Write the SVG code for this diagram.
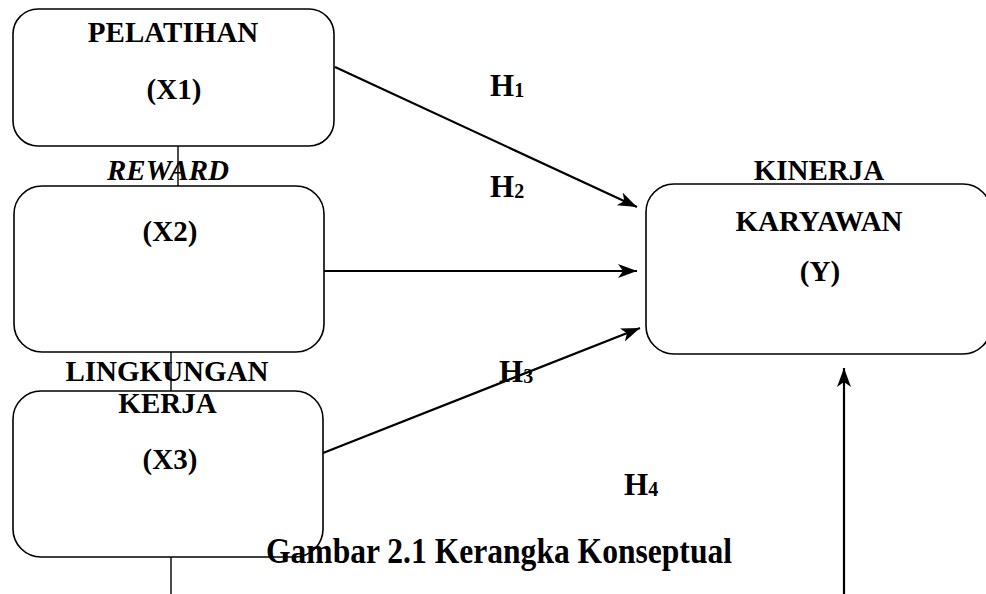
<svg xmlns="http://www.w3.org/2000/svg" width="986" height="594" viewBox="0 0 986 594">
<style>
.box{fill:#fff;stroke:#000;stroke-width:1.6}
.ln{stroke:#000;stroke-width:1.4;fill:none}
.arr{stroke:#000;stroke-width:2.2;fill:none;marker-end:url(#ah)}
text{font-family:"Liberation Serif","Times New Roman",serif;font-weight:bold;fill:#000}
.lbl{font-size:29px;text-anchor:middle}
.h{font-size:31px}
.sub{font-size:20px}
</style>
<defs>
<marker id="ah" markerUnits="userSpaceOnUse" markerWidth="22" markerHeight="16" refX="19" refY="7" orient="auto" viewBox="0 0 22 16">
<path d="M0,0 L19,7 L0,14 L5,7 Z" fill="#000"/>
</marker>
</defs>
<rect width="986" height="594" fill="#fff"/>
<g id="connectors">
<line class="ln" x1="178" y1="146" x2="178" y2="186"/>
<line class="ln" x1="171" y1="352" x2="171" y2="391"/>
<line class="ln" x1="171" y1="557" x2="171" y2="594"/>
<line class="arr" x1="335" y1="67" x2="637" y2="207"/>
<line class="arr" x1="324" y1="271" x2="637" y2="271"/>
<line class="arr" x1="323" y1="453" x2="640" y2="328"/>
<line class="arr" x1="844" y1="594" x2="844" y2="368"/>
</g>
<g id="node-x1">
<rect class="box" x="13" y="9" width="321" height="137" rx="25"/>
<text class="lbl" x="173" y="42">PELATIHAN</text>
<text class="lbl" x="174" y="99">(X1)</text>
</g>
<g id="node-x2">
<rect class="box" x="14" y="186" width="310" height="166" rx="28"/>
<text class="lbl" x="170" y="241">(X2)</text>
</g>
<g id="node-x3">
<rect class="box" x="13" y="391" width="310" height="166" rx="28"/>
<text class="lbl" x="167.5" y="413">KERJA</text>
<text class="lbl" x="170" y="469">(X3)</text>
</g>
<g id="node-y">
<rect class="box" x="646" y="184" width="345" height="170" rx="28"/>
<text class="lbl" x="819" y="231">KARYAWAN</text>
<text class="lbl" x="820" y="281">(Y)</text>
</g>
<g id="labels">
<text class="lbl" x="168" y="180" font-style="italic">REWARD</text>
<text class="lbl" x="167" y="381">LINGKUNGAN</text>
<text class="lbl" x="819" y="180">KINERJA</text>
<text class="h" x="490" y="96">H<tspan class="sub" dy="1">1</tspan></text>
<text class="h" x="490" y="197">H<tspan class="sub" dy="1">2</tspan></text>
<text class="h" x="499" y="382">H<tspan class="sub" dy="1">3</tspan></text>
<text class="h" x="624" y="495">H<tspan class="sub" dy="1">4</tspan></text>
<text x="266" y="563" font-size="36" textLength="466" lengthAdjust="spacingAndGlyphs">Gambar 2.1 Kerangka Konseptual</text>
</g>
</svg>
